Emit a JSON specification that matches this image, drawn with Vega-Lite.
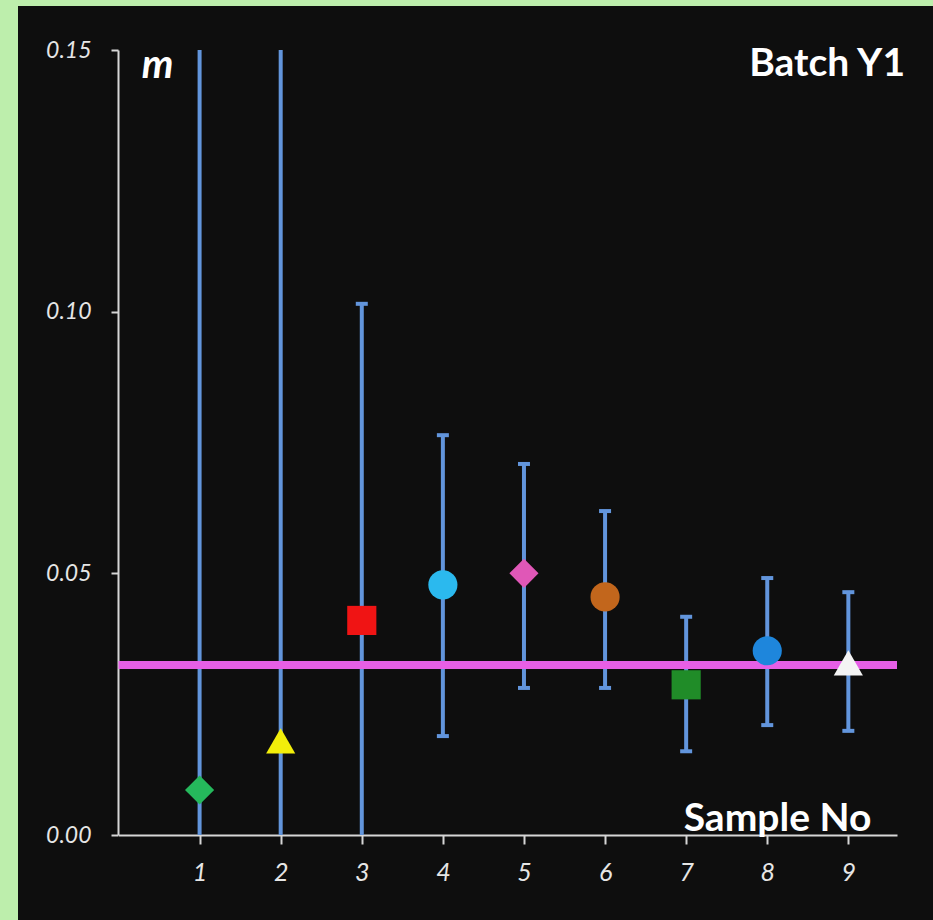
{
  "$schema": "https://vega.github.io/schema/vega-lite/v6.json",
  "autosize": {"type": "none"},
  "padding": {"left": 18, "top": 6, "right": 0, "bottom": 0},
  "width": 915,
  "height": 914,
  "background": "#bdeeac",
  "config": {
    "view": {"fill": "#0e0e0e", "stroke": null},
    "font": "Lato",
    "axis": {
      "grid": false,
      "domainColor": "#d6d6d6",
      "domainWidth": 2,
      "tickColor": "#d6d6d6",
      "tickWidth": 2,
      "labelColor": "#e6e6e6",
      "labelFont": "Lato",
      "labelFontStyle": "italic",
      "labelFontSize": 23,
      "titleColor": "#ffffff",
      "titleFont": "Lato",
      "titleFontWeight": "bold"
    }
  },
  "datasets": {
    "samples": [
      {"sample": 1, "m": 0.0086, "lo": 0.0, "hi": 0.15},
      {"sample": 2, "m": 0.018, "lo": 0.0, "hi": 0.15},
      {"sample": 3, "m": 0.041, "lo": 0.0, "hi": 0.1015},
      {"sample": 4, "m": 0.0478, "lo": 0.0189, "hi": 0.0764},
      {"sample": 5, "m": 0.0500, "lo": 0.0281, "hi": 0.0709},
      {"sample": 6, "m": 0.0455, "lo": 0.0281, "hi": 0.0619},
      {"sample": 7, "m": 0.0287, "lo": 0.0160, "hi": 0.0417},
      {"sample": 8, "m": 0.0352, "lo": 0.0210, "hi": 0.0491},
      {"sample": 9, "m": 0.0329, "lo": 0.0199, "hi": 0.0464}
    ],
    "caps": [
      {"sample": 3, "value": 0.1015},
      {"sample": 4, "value": 0.0189},
      {"sample": 4, "value": 0.0764},
      {"sample": 5, "value": 0.0281},
      {"sample": 5, "value": 0.0709},
      {"sample": 6, "value": 0.0281},
      {"sample": 6, "value": 0.0619},
      {"sample": 7, "value": 0.0160},
      {"sample": 7, "value": 0.0417},
      {"sample": 8, "value": 0.0210},
      {"sample": 8, "value": 0.0491},
      {"sample": 9, "value": 0.0199},
      {"sample": 9, "value": 0.0464}
    ],
    "reference": [{"mean": 0.0325, "start": 0, "end": 9.6}],
    "label": [{"text": "Batch Y1", "x": 9.6, "y": 0.15}]
  },
  "layer": [
    {
      "data": {"name": "samples"},
      "mark": {"type": "rule", "strokeWidth": 4, "color": "#6295dc"},
      "encoding": {
        "x": {
          "field": "sample", "type": "quantitative", "title": "Sample No",
          "scale": {"domain": [0, 9.6], "range": [100.5, 879], "nice": false, "zero": false},
          "axis": {
            "values": [1, 2, 3, 4, 5, 6, 7, 8, 9], "format": "d",
            "offset": -85, "tickSize": 9, "labelPadding": 16, "labelFontSize": 25,
            "titleFontSize": 39, "titleX": 759, "titleY": -17,
            "titleAlign": "center", "titleBaseline": "middle", "titleAnchor": null
          }
        },
        "y": {
          "field": "lo", "type": "quantitative", "title": "m",
          "scale": {"domain": [0, 0.15], "range": [829, 44], "nice": false, "zero": false},
          "axis": {
            "values": [0, 0.05, 0.1, 0.15], "format": ".2f",
            "offset": -100, "tickSize": 7, "labelPadding": 20,
            "titleAngle": 0, "titleFontSize": 40, "titleFontStyle": "italic",
            "titleX": 39, "titleY": 59, "titleAlign": "center", "titleBaseline": "middle"
          }
        },
        "y2": {"field": "hi"}
      }
    },
    {
      "data": {"name": "caps"},
      "mark": {"type": "tick", "orient": "horizontal", "size": 12, "thickness": 4, "color": "#6295dc", "opacity": 1},
      "encoding": {
        "x": {"field": "sample", "type": "quantitative", "title": "Sample No"},
        "y": {"field": "value", "type": "quantitative", "title": "m"}
      }
    },
    {
      "data": {"name": "reference"},
      "mark": {"type": "rule", "strokeWidth": 8, "color": "#e65fe6"},
      "encoding": {
        "x": {"field": "start", "type": "quantitative", "title": "Sample No"},
        "x2": {"field": "end"},
        "y": {"field": "mean", "type": "quantitative", "title": "m"}
      }
    },
    {
      "data": {"name": "samples"},
      "mark": {"type": "point", "filled": true, "opacity": 1, "size": 850, "strokeWidth": 0},
      "encoding": {
        "x": {"field": "sample", "type": "quantitative", "title": "Sample No"},
        "y": {"field": "m", "type": "quantitative", "title": "m"},
        "shape": {
          "field": "sample", "type": "nominal", "legend": null,
          "scale": {"domain": [1, 2, 3, 4, 5, 6, 7, 8, 9],
                    "range": ["diamond", "triangle-up", "square", "circle", "diamond", "circle", "square", "circle", "triangle-up"]}
        },
        "color": {
          "field": "sample", "type": "nominal", "legend": null,
          "scale": {"domain": [1, 2, 3, 4, 5, 6, 7, 8, 9],
                    "range": ["#25b85c", "#f2ee0a", "#f01414", "#2bb9ee", "#e057b7", "#c2661c", "#208c28", "#1e86dc", "#f4f4f4"]}
        }
      }
    },
    {
      "data": {"name": "label"},
      "mark": {"type": "text", "font": "Lato", "fontSize": 39, "fontWeight": "bold", "color": "#ffffff", "align": "right", "baseline": "middle", "dx": 8, "dy": 14},
      "encoding": {
        "text": {"field": "text"},
        "x": {"field": "x", "type": "quantitative", "title": "Sample No"},
        "y": {"field": "y", "type": "quantitative", "title": "m"}
      }
    }
  ]
}
